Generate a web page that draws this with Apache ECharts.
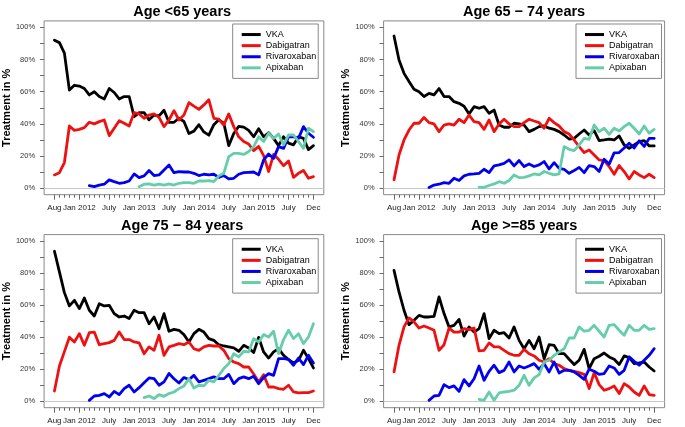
<!DOCTYPE html>
<html><head><meta charset="utf-8">
<script src="https://cdn.jsdelivr.net/npm/echarts@6/dist/echarts.min.js"></script>
<style>html,body{margin:0;padding:0;background:#fff}#c{width:685px;height:427px}</style>
</head><body><div id="c"></div>
<script>
// x index 0 = Aug 2011 ... 52 = Dec 2015 (monthly)
const tickPos = [0,5,11,17,23,29,35,41,47,52];
const tickLabels = ['Aug','Jan 2012','July','Jan 2013','July','Jan 2014','July','Jan 2015','July','Dec'];
const yLabelValues = [0,20,40,60,80,100];
const yTickValues = [0,10,20,30,40,50,60,70,80,90,100];
const panelTitles = ['Age <65 years','Age 65 \u2212 74 years','Age 75 \u2212 84 years','Age >=85 years'];
const seriesNames = ['VKA','Dabigatran','Rivaroxaban','Apixaban'];
const seriesColors = ['#000000','#EE1111','#0000EE','#66CDAA'];

const N7 = [null,null,null,null,null,null,null];
const N17 = N7.concat([null,null,null,null,null,null,null,null,null,null]);
const N18 = N17.concat([null]);

// Age <65
const vka1 = [92,90.5,84,61,64,63.5,62,58,60,57,55.5,62,59.5,55.5,57,57,44.5,47,47,42.5,45.5,45,48.5,41,41,43.5,41.5,34,35.5,39.5,35,33,39.5,42.5,40.5,26.5,34,38.5,38,36,32,37,32,34.5,31,26.5,32,28,27,32,31,24,26.5];
const dab1 = [8.3,9.7,16,38.7,36,36.6,37.7,41,40,41.4,42.4,32.7,37.3,42,40.4,38.7,47,46.2,43.5,45.5,46.2,44,38.3,42.4,48.2,42.4,45.5,53.2,51,49,51.8,55,43.5,42.9,39.3,46.2,38.3,32,29,27.5,23.4,26,20.3,10.4,21,18,14,17,6.8,9.3,11,6.2,7.2];
const riv1 = N7.concat([1.6,1,2,2.5,5.2,4.1,3.1,3.5,4.5,8.9,6.6,7.7,11,7.9,8.3,11.4,14.5,9.7,10.4,10.1,10.1,9.3,7.9,8.7,8.3,8.7,6.8,7.9,5.8,6.2,8.7,9.7,9.9,10.1,8.3,17.6,21.3,18.6,25.9,24.8,32,32,31,38.3,34.2,31.7]);
const apx1 = N17.concat([1,2.5,2.7,2,2.5,2,2.7,2,3.1,3.5,3.5,3.1,4.5,4.5,4.8,4.1,7.7,9.3,19.7,21.7,21.7,21,22.8,25.9,32,29,34.2,31,33.7,27,33.1,33.1,29,24.8,37.3,35.2]);

// Age 65-74
const vka2 = [94.6,79.7,71.4,66.3,61.5,60,57,59,58,62,57,57,53.8,52.8,51,46.2,50.7,49.7,50.7,46.6,48.6,39.3,37.9,37.9,40.4,40,39.3,35.2,36.6,38.3,38.7,37.3,36.6,35.2,33.1,30.6,31,33.7,36.2,33.1,35.8,29.6,30,30.6,30,32.5,26.9,24.8,26.9,29,29.6,26.3,26.3];
const dab2 = [5.2,20.7,30,36.2,40.4,40.4,44,40.8,40,35.2,39.3,40,39.3,42.9,40.8,45.5,41.4,40.8,36.6,42.4,35.2,40,42.9,40,38.3,38.3,40.8,42.9,41.8,40.8,37.3,43.5,40.8,38.7,35.2,33.7,30,25.9,22.2,23.8,20.7,17.6,17.2,13.5,8.7,14.1,10.4,5.8,10.4,8.3,6.6,8.7,6.6];
const riv2 = N7.concat([0.4,2,2.5,3.5,3.1,6.2,4.8,7.7,8.7,8.9,9.3,11.8,9.7,13.9,14.5,15.5,17.6,13.9,17.2,13.5,15.1,13.5,14.5,16.6,12,15.9,12.4,11.8,9.3,11,13,9.7,14.1,13.5,10.4,18,15,22,22.2,25,28,25,29.5,26,31,31]);
const apx2 = N17.concat([0.6,0.6,1.7,2.7,4.1,3.1,4.8,8.3,6.6,6.8,7.7,8.9,8.3,10.4,9.3,8.3,9,25.9,24.2,23.4,26.9,31,30.4,39.3,35.2,37.3,33.5,37.3,35.6,38.3,40.4,37.3,33.7,38.7,34.2,36.6]);

// Age 75-84
const vka3 = [93.6,80.7,67.8,59.5,63,57.8,64.4,56.8,53.2,60.9,59.5,59.9,54.7,52.6,53.2,51.6,56.8,55.3,55.3,48.4,52.6,45.3,54.7,43.7,44.9,44.3,41.6,37,42.2,44.9,43.2,39.1,38,35.3,34.5,33.9,33.3,31.2,34.9,33.3,30.4,39.9,30.8,27,30.8,32.8,28.7,26,23.9,25.6,31.8,26.6,20.8];
const dab3 = [6.4,22,31,40,37,42.2,35,42.8,43.2,35.3,36,36.6,38,43.2,38.5,38.5,37,36.4,29.7,33.9,31.8,41.2,28.7,33.9,34.9,36,35.3,37,32.8,31.8,33.9,34.9,34.5,34.5,31.8,26.6,24.5,23.5,21.4,21.4,17,12,16.6,8.9,8.9,7.9,7.5,10,5.8,5.2,5.4,5.4,6.4];
const riv3 = N7.concat([0.6,3.3,3.7,4.8,2.7,6.2,4.2,7.9,10,5.8,8.5,11.6,14.6,14.1,10,12.1,17.3,14.1,11.4,14.8,13.5,16.2,12.1,13.1,14.1,15.2,14.1,14.1,16.8,11,14.1,15.2,14.1,15.6,11,14.8,17.3,16.2,26.6,26.6,26.2,22.5,27,22.9,28.7,23.9]);
const apx3 = N18.concat([2.3,3.3,1.7,4.2,3.1,4.8,5.8,7.9,9.6,14.1,8.3,10,9.6,13.1,12.1,16.2,20.4,23.5,29.7,27.7,31.2,30.8,39.1,37,41.6,40.1,43.7,29.7,38.5,44.3,39.1,42.2,36,40.1,48.4]);

// Age >=85
const vka4 = [81.7,68.2,56.8,47.8,50.5,53.6,52.6,52.6,53,65.1,54.7,46.4,47.4,51.1,40.7,46.4,43.2,45.3,54.7,39.1,44.3,42.2,42.8,39.5,46.4,38,32.8,38,32.8,40.1,26.6,35.3,34.9,29.7,29.7,26.2,22.9,25.6,32.4,20.4,26.6,28.1,30.1,27.7,26.2,22.9,28.3,27.2,23.5,23.9,24.5,21.4,18.9];
const dab4 = [18.3,34.9,46.4,52,49.5,45.7,47,45.7,44.3,31.8,35.3,45.7,43.2,43.2,45.3,44.7,45.7,31.4,31.8,36.4,33.9,33.9,31.8,29.7,28.7,28.7,32.4,29.7,28.3,25.6,24.5,26.6,23.5,22.5,20.4,19.3,18.7,17.9,16.8,7.9,17.9,10.4,6.9,7.9,9.6,4.8,11,8.9,5.8,3.7,9.6,4.2,3.7];
const riv4 = N7.concat([0.6,3.3,3.7,10.4,8.5,9.6,6.2,13.5,9.6,14.1,22,13.1,18.7,22.5,17.9,19.3,24.5,18.3,22,20.8,22,23.5,20,23.5,18.3,24.5,17.7,19.3,19.3,18.3,16.2,13.7,20,18.7,16.8,17.3,22,20.8,16.8,19.3,27.7,24.9,22.5,25.6,28.7,32.8]);
const apx4 = N17.concat([1.2,0.6,5.8,0.6,5.2,5.8,6.2,6.9,10,16.2,10,14.6,16.6,24.5,25.6,28.7,30.8,32.8,39.5,39.5,46.4,43.7,44.3,47.4,43.7,40.1,47.4,47.8,44.3,41.2,47.4,44.3,44.3,47.4,44.9,45.3]);

const panelData = [[vka1,dab1,riv1,apx1],[vka2,dab2,riv2,apx2],[vka3,dab3,riv3,apx3],[vka4,dab4,riv4,apx4]];

const FONT = '"Liberation Sans", Arial, Helvetica, sans-serif';
const grids = [
  {left:40.5, top:20.9, width:283.3, height:173.8},
  {left:383.6, top:20.9, width:281, height:173.8},
  {left:40.5, top:234.6, width:283.3, height:173.1},
  {left:383.6, top:234.6, width:281, height:173.1}
];
const legendPos = [{left:232.7,top:24},{left:576,top:24},{left:232.7,top:238.7},{left:576,top:238.7}];
const titleTops = [4.5, 4.5, 218, 218];
const allMonths = [];
for (let i = 0; i <= 52; i++) allMonths.push(i);

const option = {
  animation:false,
  textStyle:{fontFamily:FONT},
  title: panelTitles.map((t,p)=>({
    text:t, left:grids[p].left + grids[p].width/2, top:titleTops[p], textAlign:'center', padding:0,
    textStyle:{fontSize:14.5, fontWeight:'bold', color:'#000', fontFamily:FONT}
  })),
  legend: legendPos.map(lp=>({
    data:seriesNames, orient:'vertical', left:lp.left, top:lp.top, padding:[5,2,5,9],
    itemWidth:19, itemHeight:3, itemGap:0, icon:'rect', selectedMode:false,
    borderColor:'#888', borderWidth:1, backgroundColor:'#fff',
    textStyle:{fontSize:9, color:'#000', lineHeight:11.1, fontFamily:FONT}
  })),
  grid: grids.map(g=>Object.assign({show:true, borderColor:'#888', borderWidth:1, backgroundColor:'transparent', containLabel:false}, g)),
  xAxis: [],
  yAxis: [],
  series: []
};

for (let p = 0; p < 4; p++) {
  option.xAxis.push({
    gridIndex:p, type:'value', min:-2.08, max:54.08, position:'bottom',
    axisLine:{show:false, onZero:false}, splitLine:{show:false},
    axisTick:{show:true, inside:false, customValues:tickPos, length:5, lineStyle:{color:'#666', width:1}},
    axisLabel:{show:true, customValues:tickPos, hideOverlap:false, fontSize:8, color:'#222', margin:9, fontFamily:FONT,
      formatter:v=>{const k = tickPos.indexOf(Math.round(v)); return k>=0 ? tickLabels[k] : '';}}
  });
  option.xAxis.push({
    gridIndex:p, type:'value', min:-2.08, max:54.08, position:'bottom', offset:0,
    axisLine:{show:false, onZero:false}, splitLine:{show:false},
    axisTick:{show:true, inside:false, customValues:allMonths, length:3, lineStyle:{color:'#666', width:1}},
    axisLabel:{show:false}
  });
  option.yAxis.push({
    gridIndex:p, type:'value', min:-4, max:104, position:'left',
    axisLine:{show:false, onZero:false}, splitLine:{show:false},
    axisTick:{show:true, inside:false, customValues:yTickValues, length:4, lineStyle:{color:'#666', width:1}},
    axisLabel:{show:true, customValues:yLabelValues, formatter:v=>v+'%', fontSize:7.5, color:'#333', margin:9, fontFamily:FONT},
    name:'Treatment in %', nameLocation:'middle', nameGap:25,
    nameTextStyle:{fontSize:11, fontWeight:'bold', color:'#000', fontFamily:FONT}
  });
  for (let k = 0; k < 4; k++) {
    const arr = panelData[p][k];
    const data = [];
    arr.forEach((v,i)=>{ if (v !== null) data.push([i, v]); });
    const s = {
      name:seriesNames[k], type:'line', xAxisIndex:p*2, yAxisIndex:p, data:data,
      symbol:'none', showSymbol:false, silent:true, z:3+k,
      color:seriesColors[k],
      lineStyle:{color:seriesColors[k], width:2.8, cap:'round', join:'round'}
    };
    if (k === 0) {
      s.markLine = {silent:true, symbol:'none', label:{show:false}, animation:false,
        lineStyle:{color:'#c8c8c8', width:1, type:'solid'}, data:[{yAxis:0}]};
    }
    option.series.push(s);
  }
}

const chart = echarts.init(document.getElementById('c'), null, {renderer:'canvas'});
chart.setOption(option);
</script>
</body></html>
